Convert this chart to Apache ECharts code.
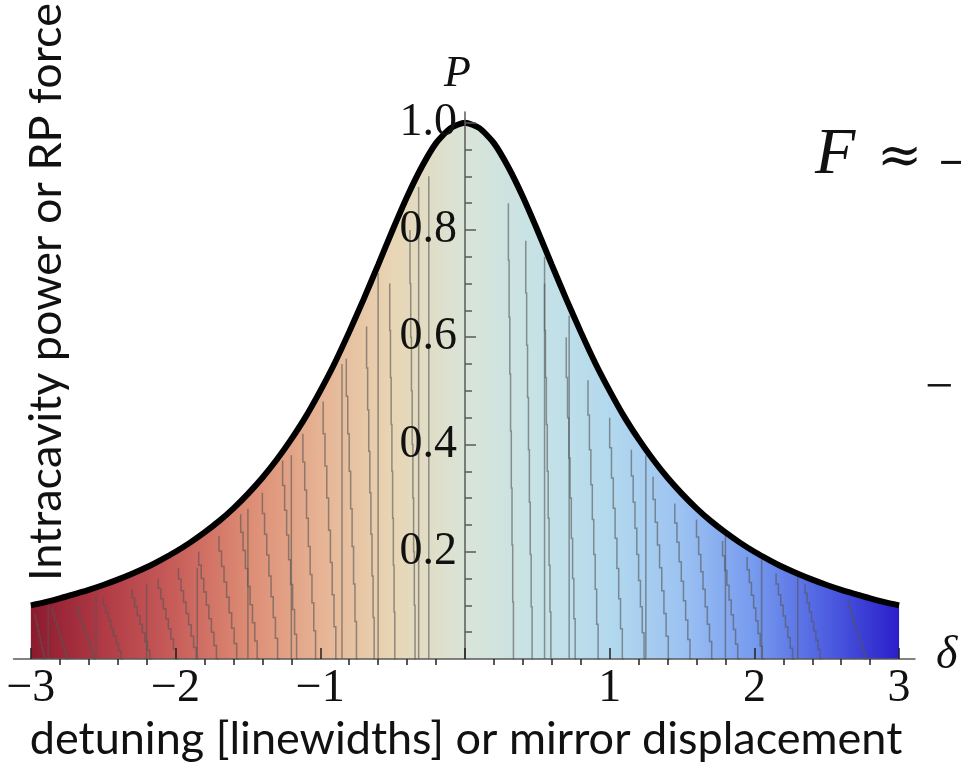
<!DOCTYPE html>
<html>
<head>
<meta charset="utf-8">
<script src="https://cdn.jsdelivr.net/npm/echarts@6/dist/echarts.min.js"></script>
<style>
  html, body { margin: 0; padding: 0; background: #fff; }
  #chart { width: 961px; height: 764px; }
</style>
</head>
<body>
<div id="chart"></div>
<script>
// Detuning δ (linewidths) and normalised intracavity power P
const detuning = [
  -3.0, -2.9, -2.8, -2.7, -2.6, -2.5, -2.4, -2.3, -2.2, -2.1,
  -2.0, -1.9, -1.8, -1.7, -1.6, -1.5, -1.4, -1.3, -1.2, -1.1,
  -1.0, -0.9, -0.8, -0.7, -0.6, -0.5, -0.4, -0.3, -0.2, -0.1,
   0.0,
   0.1,  0.2,  0.3,  0.4,  0.5,  0.6,  0.7,  0.8,  0.9,  1.0,
   1.1,  1.2,  1.3,  1.4,  1.5,  1.6,  1.7,  1.8,  1.9,  2.0,
   2.1,  2.2,  2.3,  2.4,  2.5,  2.6,  2.7,  2.8,  2.9,  3.0
];
const power = [
  0.100, 0.106, 0.113, 0.121, 0.129, 0.138, 0.148, 0.159, 0.171, 0.185,
  0.200, 0.217, 0.236, 0.257, 0.281, 0.308, 0.338, 0.372, 0.410, 0.452,
  0.500, 0.552, 0.610, 0.671, 0.735, 0.800, 0.862, 0.917, 0.962, 0.990,
  1.000,
  0.990, 0.962, 0.917, 0.862, 0.800, 0.735, 0.671, 0.610, 0.552, 0.500,
  0.452, 0.410, 0.372, 0.338, 0.308, 0.281, 0.257, 0.236, 0.217, 0.200,
  0.185, 0.171, 0.159, 0.148, 0.138, 0.129, 0.121, 0.113, 0.106, 0.100
];

// Tick values
const xLabelTicks = [-3, -2, -1, 1, 2, 3];
const xMajorTicks = [-3, -2, -1, 0, 1, 2, 3];
const xMinorTicks = [-2.8, -2.6, -2.4, -2.2, -1.8, -1.6, -1.4, -1.2, -0.8, -0.6, -0.4, -0.2,
                     0.2, 0.4, 0.6, 0.8, 1.2, 1.4, 1.6, 1.8, 2.2, 2.4, 2.6, 2.8];
const yLabelTicks = [0.2, 0.4, 0.6, 0.8, 1.0];
const yMinorTicks = [0.05, 0.1, 0.15, 0.25, 0.3, 0.35, 0.45, 0.5, 0.55, 0.65, 0.7, 0.75,
                     0.85, 0.9, 0.95, 1.0];

// Shading seams inside the filled region: [δ at top, δ at bottom, P at top]
const seams = [
  [-2.97, -2.90, 0.085], [-2.85, -2.74, 0.095], [-2.68, -2.55, 0.100],
  [-2.50, -2.36, 0.115], [-2.30, -2.16, 0.130], [-2.12, -1.98, 0.150],
  [-1.98, -1.84, 0.170], [-1.84, -1.70, 0.200], [-1.70, -1.56, 0.230],
  [-1.55, -1.42, 0.270], [-1.40, -1.28, 0.310], [-1.26, -1.15, 0.370],
  [-1.12, -1.02, 0.420], [-0.98, -0.88, 0.480], [-0.82, -0.74, 0.560],
  [-0.68, -0.62, 0.620], [-0.52, -0.48, 0.700], [-0.38, -0.34, 0.800],
  [0.30, 0.34, 0.850], [0.42, 0.47, 0.780], [0.55, 0.60, 0.700],
  [0.70, 0.77, 0.600], [0.85, 0.93, 0.520], [1.00, 1.10, 0.450],
  [1.15, 1.25, 0.390], [1.30, 1.42, 0.340], [1.45, 1.57, 0.290],
  [1.60, 1.72, 0.260], [1.78, 1.90, 0.220], [1.95, 2.07, 0.190],
  [2.15, 2.28, 0.160], [2.35, 2.47, 0.140], [2.65, 2.78, 0.110],
  [-2.88, -2.88, 0.100], [-2.55, -2.55, 0.120], [-2.20, -2.20, 0.140],
  [-1.85, -1.85, 0.170], [-1.50, -1.50, 0.280], [-1.20, -1.20, 0.380],
  [-0.85, -0.85, 0.550], [-0.60, -0.60, 0.720], [-0.32, -0.32, 0.880],
  [-0.25, -0.25, 0.900], [0.55, 0.55, 0.750], [0.72, 0.72, 0.640],
  [1.25, 1.25, 0.380], [1.80, 1.80, 0.230], [2.05, 2.05, 0.190],
  [2.30, 2.30, 0.155]
];

const curve = detuning.map((d, i) => [d, power[i]]);

const chart = echarts.init(document.getElementById('chart'), null, { renderer: 'canvas' });

const serif = '"Liberation Serif", "DejaVu Serif", serif';
const sans = 'Lato, "Open Sans", sans-serif';
const axisGray = '#5a5a5a';

// plot area and axis extents
const W = 961;
const gridLeft = 13.5, gridRight = 46, gridTop = 112, gridBottom = 105;
const xMin = -3.12, xMax = 3.11;
// shift the vertical axis from the left edge of the grid to δ = 0
const plotWidth = W - gridLeft - gridRight;
const yAxisShift = -(0 - xMin) / (xMax - xMin) * plotWidth;

const commonX = {
  type: 'value',
  min: xMin,
  max: xMax,
  z: 10,
  splitLine: { show: false },
  axisLine: { onZero: true, lineStyle: { color: axisGray, width: 1.5 } }
};
const commonY = {
  type: 'value',
  min: 0,
  max: 1.02,
  position: 'left',
  offset: yAxisShift,
  z: 10,
  splitLine: { show: false },
  axisLine: { onZero: false, lineStyle: { color: axisGray, width: 1.5 } }
};

chart.setOption({
  animation: false,
  backgroundColor: '#ffffff',
  grid: {
    left: gridLeft, right: gridRight, top: gridTop, bottom: gridBottom,
    containLabel: false, outerBoundsMode: 'none'
  },
  xAxis: [
    Object.assign({}, commonX, {
      axisTick: { show: true, inside: true, length: 11, customValues: xMajorTicks,
                  lineStyle: { color: '#222', width: 1.5 } },
      axisLabel: {
        show: true, customValues: xLabelTicks, margin: 7,
        fontFamily: serif, fontSize: 46, color: '#111',
        formatter: v => (v < 0 ? '\u2212' + Math.abs(v) : String(v))
      }
    }),
    Object.assign({}, commonX, {
      axisLine: { show: false },
      axisTick: { show: true, inside: true, length: 6, customValues: xMinorTicks,
                  lineStyle: { color: '#222', width: 1.5 } },
      axisLabel: { show: false }
    })
  ],
  yAxis: [
    Object.assign({}, commonY, {
      axisTick: { show: true, inside: true, length: 11, customValues: yLabelTicks,
                  lineStyle: { color: axisGray, width: 1.5 } },
      axisLabel: {
        show: true, customValues: yLabelTicks, margin: 8,
        fontFamily: serif, fontSize: 46, color: '#111',
        formatter: v => v.toFixed(1)
      }
    }),
    Object.assign({}, commonY, {
      axisLine: { show: false, onZero: false },
      axisTick: { show: true, inside: true, length: 7, customValues: yMinorTicks,
                  lineStyle: { color: axisGray, width: 1.5 } },
      axisLabel: { show: false }
    })
  ],
  series: [
    {
      // coloured fill under the resonance
      type: 'line',
      data: curve,
      smooth: 0.2,
      showSymbol: false,
      z: 1,
      lineStyle: { width: 0 },
      areaStyle: {
        opacity: 1,
        color: new echarts.graphic.LinearGradient(0, 0, 1, 0, [
          { offset: 0.00, color: '#8c1a2e' },
          { offset: 0.083, color: '#b03a45' },
          { offset: 0.167, color: '#c85e5a' },
          { offset: 0.25, color: '#dd8c74' },
          { offset: 0.333, color: '#e6b394' },
          { offset: 0.417, color: '#e8d6b4' },
          { offset: 0.50, color: '#d9e4d8' },
          { offset: 0.583, color: '#c6e2e6' },
          { offset: 0.667, color: '#b3d9ee' },
          { offset: 0.75, color: '#9cc2f2' },
          { offset: 0.833, color: '#769aee' },
          { offset: 0.917, color: '#4d5ee0' },
          { offset: 1.00, color: '#2a1fca' }
        ])
      }
    },
    {
      // faint stepped seams inside the filled region
      type: 'custom',
      z: 2,
      data: seams,
      encode: { x: [0, 1], y: 2 },
      renderItem: function (params, api) {
        const xt = api.value(0), xb = api.value(1), pt = api.value(2);
        const steps = 8;
        const pts = [];
        for (let i = 0; i < steps; i++) {
          const xa = xt + (xb - xt) * i / steps;
          const xn = xt + (xb - xt) * (i + 1) / steps;
          const yn = pt * (1 - (i + 1) / steps);
          if (i === 0) pts.push(api.coord([xa, pt]));
          pts.push(api.coord([xa, yn]));
          pts.push(api.coord([xn, yn]));
        }
        return {
          type: 'polyline',
          shape: { points: pts },
          style: { stroke: 'rgba(85,85,85,0.6)', lineWidth: 1.5, fill: null }
        };
      }
    },
    {
      // resonance curve outline
      type: 'line',
      data: curve,
      smooth: 0.2,
      showSymbol: false,
      z: 3,
      lineStyle: { color: '#000', width: 6 }
    }
  ],
  graphic: [
    {
      type: 'text', left: 444, top: 52,
      style: { text: 'P', fontFamily: serif, fontStyle: 'italic', fontSize: 44, fill: '#111' }
    },
    {
      type: 'text', left: 936, top: 633,
      style: { text: '\u03b4', fontFamily: serif, fontStyle: 'italic', fontSize: 46, fill: '#111' }
    },
    {
      type: 'text', left: 815, top: 123,
      style: { text: 'F', fontFamily: serif, fontStyle: 'italic', fontSize: 66, fill: '#111' }
    },
    {
      type: 'text', left: 877, top: 132,
      style: { text: '\u2248', fontFamily: '"DejaVu Serif", serif', fontSize: 54, fill: '#111' }
    },
    {
      type: 'text', left: 938, top: 136,
      style: { text: '\u2212', fontFamily: serif, fontSize: 62, fill: '#111' }
    },
    {
      type: 'text', left: 925, top: 364,
      style: { text: '\u2212', fontFamily: serif, fontSize: 50, fill: '#111' }
    },
    {
      type: 'text', x: 466, y: 762,
      style: {
        text: 'detuning [linewidths] or mirror displacement',
        fontFamily: sans, fontSize: 45, fill: '#111',
        textAlign: 'center', textVerticalAlign: 'bottom'
      }
    },
    {
      type: 'text', x: 46, y: 292, rotation: Math.PI / 2,
      style: {
        text: 'Intracavity power or RP force',
        fontFamily: sans, fontSize: 45, fill: '#111',
        textAlign: 'center', textVerticalAlign: 'middle'
      }
    }
  ]
});
</script>
</body>
</html>
